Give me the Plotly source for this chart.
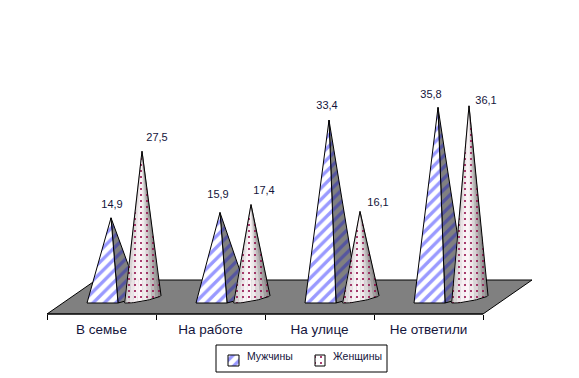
import numpy as np
import plotly.graph_objects as go

categories = ["В семье", "На работе", "На улице", "Не ответили"]
men = [14.9, 15.9, 33.4, 35.8]
women = [27.5, 17.4, 16.1, 36.1]
men_labels = ["14,9", "15,9", "33,4", "35,8"]
women_labels = ["27,5", "17,4", "16,1", "36,1"]
series_names = ["Мужчины", "Женщины"]

W, H = 579, 378
X0, CAT = 47.0, 109.0      # pixel of first tick, category width
Y0, PER = 296.5, 5.28      # pixel of value 0, pixels per unit

# label nudges in pixels (from each cone's tip)
men_dx = [1, -2, -2, -7]
men_dy = [13, 17, 14, 12]
women_dx = [15, 13, 18, 17]
women_dy = [13, 13, 8, 5]

def ux(px):
    return px / CAT
def uy(px):
    return px / PER
def X(px):
    return (px - X0) / CAT
def Y(px):
    return (Y0 - px) / PER

x_range = [X(0), X(W)]
y_range = [Y(H), Y(0)]

fig = go.Figure()
LINE = dict(color="black", width=1)
MALE_PAT = dict(shape="/", bgcolor="white", fgcolor="#9999ff", fgopacity=1, size=8, solidity=0.42)
MALE_DARK = dict(shape="/", bgcolor="#808080", fgcolor="#55559f", fgopacity=1, size=8, solidity=0.42)
FEM_PAT = dict(shape=".", bgcolor="rgba(0,0,0,0)", fgcolor="#8c0040", fgopacity=1, size=6, solidity=0.09)

def poly(xs, ys, **kw):
    fig.add_trace(go.Scatter(x=xs, y=ys, mode="lines", fill="toself",
                             hoverinfo="skip", showlegend=False, **kw))

# floor
poly([X(47), X(483), X(532), X(96), X(47)], [Y(314), Y(314), Y(280), Y(280), Y(314)],
     line=LINE, fillcolor="#808080")
# axis line
fig.add_trace(go.Scatter(x=[0, len(categories)], y=[Y(314), Y(314)], mode="lines",
                         line=dict(color="black", width=1.2), hoverinfo="skip", showlegend=False))

for i in range(len(categories)):
    ax = i + ux(64)
    poly([ax, i + ux(93), i + ux(71), ax], [men[i], Y(297), Y(303), men[i]],
         line=LINE, fillcolor="#808080", fillpattern=MALE_DARK)
    poly([ax, i + ux(71), i + ux(40), ax], [men[i], Y(303), Y(303), men[i]],
         line=LINE, fillcolor="white", fillpattern=MALE_PAT)

    # cone with horizontal shading built from narrow strips
    ap = i + ux(95)
    top = women[i]
    cx = i + ux(95.5)
    rx = ux(18.5)
    t = np.linspace(np.pi, 2 * np.pi, 25)
    arc_x = cx + rx * np.cos(t)
    arc_y = Y(299) + uy(3.5) * np.cos(t) + uy(2.2) * np.sin(t)
    edges = np.arange(0, 25, 2)
    for ia, ib in zip(edges[:-1], edges[1:]):
        f = (0.5 * (arc_x[ia] + arc_x[ib]) - cx) / rx
        shade = 1 - abs(f + 0.2) ** 1.8 * 0.36
        col = "rgb(%d,%d,%d)" % (int(252 * shade), int(246 * shade), int(248 * shade))
        poly([ap] + list(arc_x[ia:ib + 1]) + [ap], [top] + list(arc_y[ia:ib + 1]) + [top],
             line=dict(width=0.4, color=col), fillcolor=col)
    poly([ap] + list(arc_x) + [ap], [top] + list(arc_y) + [top],
         line=LINE, fillcolor="rgba(0,0,0,0)", fillpattern=FEM_PAT)

# data labels
TXT = dict(family="Liberation Sans", size=11, color="#14143c")
fig.add_trace(go.Scatter(
    x=[i + ux(64 + d) for i, d in enumerate(men_dx)],
    y=[v + uy(d) for v, d in zip(men, men_dy)], text=men_labels,
    mode="text", textfont=TXT, hoverinfo="skip", showlegend=False))
fig.add_trace(go.Scatter(
    x=[i + ux(95 + d) for i, d in enumerate(women_dx)],
    y=[v + uy(d) for v, d in zip(women, women_dy)], text=women_labels,
    mode="text", textfont=TXT, hoverinfo="skip", showlegend=False))

# legend: swatches drawn on top of a white framed box
shapes = [dict(type="rect", xref="x", yref="y", x0=X(216), x1=X(387), y0=Y(345), y1=Y(372),
               line=dict(color="black", width=1), fillcolor="white", layer="below")]
poly([X(228), X(239), X(239), X(228), X(228)], [Y(355), Y(355), Y(366), Y(366), Y(355)],
     line=LINE, fillcolor="white", fillpattern=MALE_PAT)
poly([X(315), X(325), X(325), X(315), X(315)], [Y(355), Y(355), Y(366), Y(366), Y(355)],
     line=LINE, fillcolor="white", fillpattern=FEM_PAT)
ann = [dict(x=X(245), y=Y(356), text=series_names[0], xref="x", yref="y", showarrow=False, xanchor="left",
            font=dict(size=10.5, color="#14143c", family="Liberation Sans")),
       dict(x=X(331), y=Y(356), text=series_names[1], xref="x", yref="y", showarrow=False, xanchor="left",
            font=dict(size=10.5, color="#14143c", family="Liberation Sans"))]

fig.update_layout(
    width=W, height=H, margin=dict(l=0, r=0, t=0, b=0),
    paper_bgcolor="white", plot_bgcolor="white",
    font=dict(family="Liberation Sans", color="#14143c"),
    shapes=shapes, annotations=ann, showlegend=False,
    xaxis=dict(range=x_range, domain=[0, 1], anchor="free", position=(H - 314) / H,
               tickmode="array", tickvals=[i + 0.5 for i in range(len(categories))], ticktext=categories,
               ticks="", ticklen=0, ticklabelstandoff=5, showgrid=False, zeroline=False, showline=False,
               tickfont=dict(size=13.5, color="#14143c", family="Liberation Sans"),
               minor=dict(tickmode="array", tickvals=list(range(len(categories) + 1)), ticks="outside",
                          ticklen=5, tickcolor="black", tickwidth=1, showgrid=False)),
    yaxis=dict(range=y_range, domain=[0, 1], visible=False),
)
fig.write_html("out.html", post_script="document.body.style.margin='0';",
               config=dict(displayModeBar=False, staticPlot=True))
